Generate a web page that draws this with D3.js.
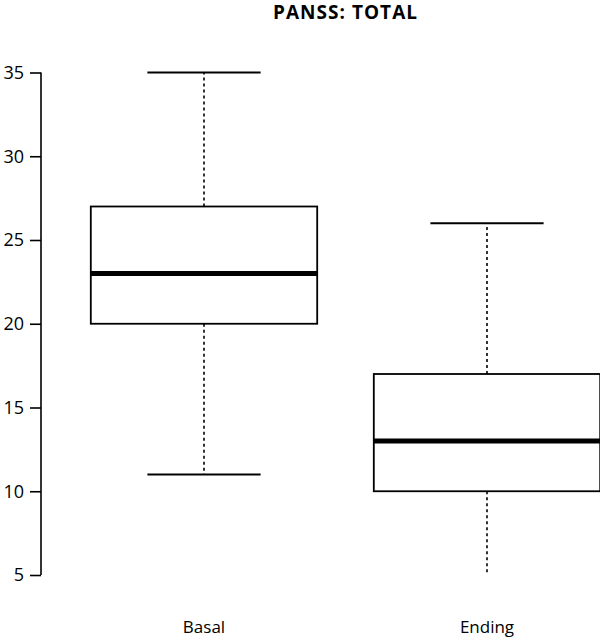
<!DOCTYPE html>
<html><head><meta charset="utf-8">
<script src="https://cdn.jsdelivr.net/npm/d3@7"></script>
<style>body{margin:0;background:#fff}svg{display:block}text{font-family:"Open Sans",sans-serif;fill:#000}</style>
</head><body><svg id="c" width="600" height="637"></svg>
<script>
const categories = ["Basal", "Ending"];
const whiskerLow = [11, 5];
const q1 = [20, 10];
const median = [23, 13];
const q3 = [27, 17];
const whiskerHigh = [35, 26];
const yTicks = [5, 10, 15, 20, 25, 30, 35];
const title = "PANSS: TOTAL";

const svg = d3.select("#c");
const y = d3.scaleLinear().domain([5, 35]).range([575, 72.5]);
const x = d3.scaleLinear().domain([1, 2]).range([204, 487]);
const boxW = 0.8, capW = 0.4;
const unit = x(2) - x(1);

svg.append("text").attr("x", 345).attr("y", 19).attr("text-anchor", "middle")
  .style("font-weight", "bold").style("font-size", "19px").attr("textLength", 144).text(title);

const yAxis = d3.axisLeft(y).tickValues(yTicks).tickSize(11).tickPadding(6).tickFormat(d3.format("d"));
const ga = svg.append("g").attr("transform", "translate(41,0)").call(yAxis);
ga.select(".domain").attr("stroke-width", 1.6).attr("d", `M0,${y(5)}V${y(35)}`);
ga.selectAll(".tick line").attr("stroke-width", 1.6);
ga.selectAll(".tick text").style("font-size", "18px").attr("font-family", null);

svg.append("defs").append("clipPath").attr("id", "clip").append("rect")
  .attr("x", 0).attr("y", 0).attr("width", 600).attr("height", y(5) - 2);

const g = svg.append("g").attr("clip-path", "url(#clip)");
categories.forEach((c, i) => {
  const cx = x(i + 1);
  const hw = boxW * unit / 2, hc = capW * unit / 2;
  g.append("line").attr("x1", cx).attr("x2", cx).attr("y1", y(q3[i])).attr("y2", y(whiskerHigh[i]))
    .attr("stroke", "#000").attr("stroke-width", 1.6).attr("stroke-dasharray", "3,3");
  g.append("line").attr("x1", cx).attr("x2", cx).attr("y1", y(q1[i])).attr("y2", y(whiskerLow[i]))
    .attr("stroke", "#000").attr("stroke-width", 1.6).attr("stroke-dasharray", "3,3");
  [whiskerHigh[i], whiskerLow[i]].forEach(v => {
    g.append("line").attr("x1", cx - hc).attr("x2", cx + hc).attr("y1", y(v)).attr("y2", y(v))
      .attr("stroke", "#000").attr("stroke-width", 1.8);
  });
  g.append("rect").attr("x", cx - hw).attr("width", 2 * hw)
    .attr("y", y(q3[i])).attr("height", y(q1[i]) - y(q3[i]))
    .attr("fill", "#fff").attr("stroke", "#000").attr("stroke-width", 1.8);
  g.append("line").attr("x1", cx - hw).attr("x2", cx + hw).attr("y1", y(median[i])).attr("y2", y(median[i]))
    .attr("stroke", "#000").attr("stroke-width", 5);
  svg.append("text").attr("x", cx).attr("y", 633).attr("text-anchor", "middle")
    .style("font-size", "17px").text(c);
});
</script></body></html>
